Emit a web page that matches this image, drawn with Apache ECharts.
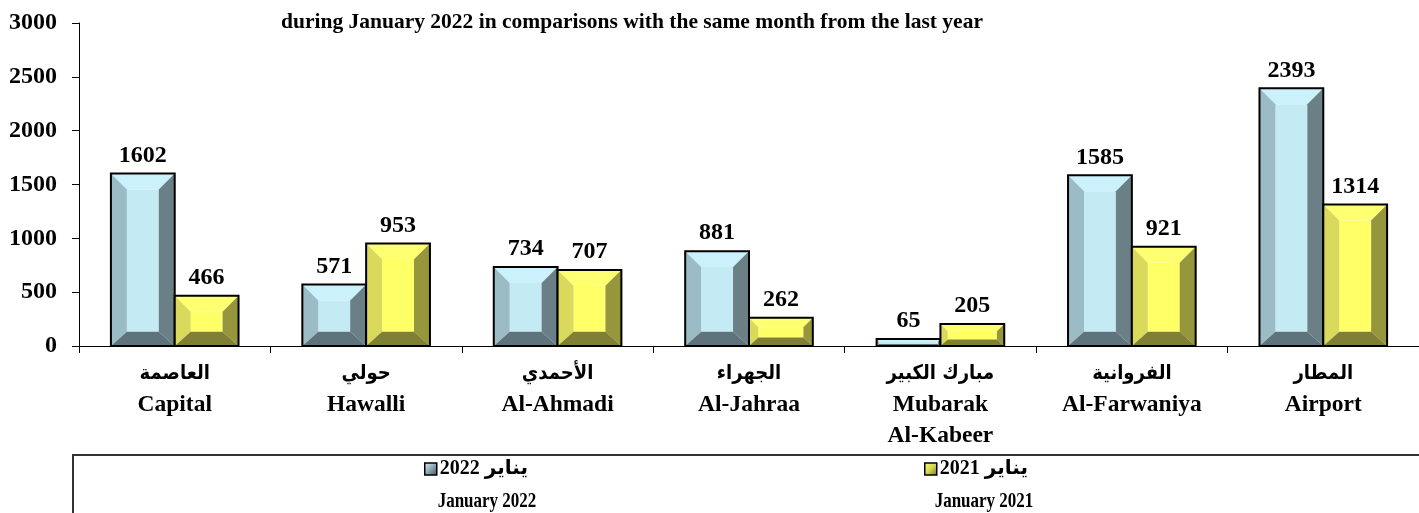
<!DOCTYPE html>
<html>
<head>
<meta charset="utf-8">
<script src="https://cdn.jsdelivr.net/npm/echarts@6/dist/echarts.min.js"></script>
<style>
html,body{margin:0;padding:0;background:#fff;}
#chart{width:1419px;height:513px;}
</style>
</head>
<body>
<div id="chart"></div>
<script>
const arabicNames = ['العاصمة', 'حولي', 'الأحمدي', 'الجهراء', 'مبارك الكبير', 'الفروانية', 'المطار'];
const englishNames = ['Capital', 'Hawalli', 'Al-Ahmadi', 'Al-Jahraa', 'Mubarak\nAl-Kabeer', 'Al-Farwaniya', 'Airport'];
const values2022 = [1602, 571, 734, 881, 65, 1585, 2393];
const values2021 = [466, 953, 707, 262, 205, 921, 1314];
const seriesNames = ['يناير 2022', 'يناير 2021'];
const seriesEnglish = ['January 2022', 'January 2021'];
const yTicks = { min: 0, max: 3000, interval: 500 };
const titleText = 'during January 2022 in comparisons with the same month from the last year';

const categories = arabicNames.map((a, i) => a + '\n' + englishNames[i]);
const FONT = "'Liberation Serif', 'Times New Roman', 'DejaVu Sans', serif";
const AR_FONT = "'DejaVu Sans Condensed', 'DejaVu Sans', sans-serif";

const palettes = [
  { face: '#C4EAF4', top: '#CBF2FC', left: '#9BBBC5', right: '#6A7F86', bottom: '#5E737B' },
  { face: '#FFFF66', top: '#FFFF72', left: '#D9D95B', right: '#96963D', bottom: '#7F7F35' }
];

function makeRender(sIdx) {
  return function (params, api) {
    const idx = api.value(0);
    const val = api.value(1);
    const base = api.coord([idx, 0]);
    const topPt = api.coord([idx, val]);
    const catW = api.size([1, 0])[0];
    const bw = catW / 3;
    const x0 = base[0] + (sIdx === 0 ? -bw : 0);
    const x1 = x0 + bw;
    const y0 = topPt[1];
    const y1 = base[1];
    const h = y1 - y0;
    const b = Math.min(17, bw / 4, h / 3);
    const p = palettes[sIdx];
    const ix0 = x0 + b, ix1 = x1 - b, iy0 = y0 + b, iy1 = y1 - b * 0.9;
    return {
      type: 'group',
      children: [
        { type: 'rect', shape: { x: ix0, y: iy0, width: ix1 - ix0, height: iy1 - iy0 }, style: { fill: p.face } },
        { type: 'polygon', shape: { points: [[x0, y0], [x1, y0], [ix1, iy0], [ix0, iy0]] }, style: { fill: p.top } },
        { type: 'polygon', shape: { points: [[x0, y0], [ix0, iy0], [ix0, iy1], [x0, y1]] }, style: { fill: p.left } },
        { type: 'polygon', shape: { points: [[x1, y0], [x1, y1], [ix1, iy1], [ix1, iy0]] }, style: { fill: p.right } },
        { type: 'polygon', shape: { points: [[x0, y1], [ix0, iy1], [ix1, iy1], [x1, y1]] }, style: { fill: p.bottom } },
        { type: 'rect', shape: { x: x0, y: y0, width: bw, height: h }, style: { fill: 'none', stroke: '#000', lineWidth: 2 } },
        { type: 'text', style: { text: String(val), x: (x0 + x1) / 2, y: y0 - 6, align: 'center', verticalAlign: 'bottom',
          fontSize: 24, fontWeight: 'bold', fontFamily: FONT, fill: '#000' } }
      ]
    };
  };
}

const swatchColors = [
  new echarts.graphic.LinearGradient(0, 0, 1, 1, [{ offset: 0, color: '#E8F6FA' }, { offset: 0.5, color: '#8FA9B2' }, { offset: 1, color: '#3E4E55' }]),
  new echarts.graphic.LinearGradient(0, 0, 1, 1, [{ offset: 0, color: '#FFFF80' }, { offset: 0.5, color: '#D6D650' }, { offset: 1, color: '#6E6E25' }])
];

const legendBase = {
  top: 459, padding: 0, align: 'left', icon: 'rect', itemWidth: 12, itemHeight: 12, itemGap: 4,
  selectedMode: false,
  textStyle: { fontSize: 20, fontWeight: 'bold', fontFamily: FONT, color: '#000', padding: [0, 0, 0, -2] }
};

const chart = echarts.init(document.getElementById('chart'), null, { renderer: 'canvas' });
chart.setOption({
  animation: false,
  backgroundColor: '#fff',
  title: {
    text: titleText, left: 281, top: 11, padding: 0,
    textStyle: { fontSize: 21.5, fontWeight: 'bold', fontFamily: FONT, color: '#000' }
  },
  grid: { left: 79, top: 23, width: 1346, bottom: 167, containLabel: false },
  xAxis: {
    type: 'category', data: categories,
    axisLine: { show: true, lineStyle: { color: '#000', width: 1 } },
    axisTick: { show: true, length: 7, interval: 0, lineStyle: { color: '#000' } },
    axisLabel: {
      interval: 0, margin: 12, color: '#000',
      formatter: (value, index) => '{ar|' + arabicNames[index] + '}\n' +
        englishNames[index].split('\n').map(s => '{en|' + s + '}').join('\n'),
      rich: {
        ar: { fontSize: 20, fontWeight: 'bold', fontFamily: AR_FONT, lineHeight: 31, color: '#000' },
        en: { fontSize: 23.5, fontWeight: 'bold', fontFamily: FONT, lineHeight: 31, color: '#000' }
      }
    }
  },
  yAxis: {
    type: 'value', min: yTicks.min, max: yTicks.max, interval: yTicks.interval,
    splitLine: { show: false },
    axisLine: { show: true, lineStyle: { color: '#000', width: 1 } },
    axisTick: { show: true, length: 7, lineStyle: { color: '#000' } },
    axisLabel: { margin: 22, fontSize: 24, fontWeight: 'bold', fontFamily: FONT, color: '#000', formatter: v => String(v) }
  },
  legend: [
    Object.assign({}, legendBase, {
      left: 424,
      data: [{ name: seriesNames[0], itemStyle: { color: swatchColors[0], borderColor: '#000', borderWidth: 1.5 } }]
    }),
    Object.assign({}, legendBase, {
      left: 924,
      data: [{ name: seriesNames[1], itemStyle: { color: swatchColors[1], borderColor: '#000', borderWidth: 1.5 } }]
    })
  ],
  graphic: [
    { type: 'rect', shape: { x: 73, y: 455, width: 1400, height: 120 }, style: { fill: 'none', stroke: '#333', lineWidth: 2 }, silent: true },
    { type: 'text', x: 487, y: 502, scaleX: 0.85, style: { text: seriesEnglish[0], align: 'center', verticalAlign: 'middle', fontSize: 20, fontWeight: 'bold', fontFamily: FONT, fill: '#000' } },
    { type: 'text', x: 984, y: 502, scaleX: 0.85, style: { text: seriesEnglish[1], align: 'center', verticalAlign: 'middle', fontSize: 20, fontWeight: 'bold', fontFamily: FONT, fill: '#000' } }
  ],
  series: [
    { name: seriesNames[0], type: 'custom', renderItem: makeRender(0), encode: { x: 0, y: 1 },
      itemStyle: { color: '#8FA9B2' }, data: values2022.map((v, i) => [i, v]) },
    { name: seriesNames[1], type: 'custom', renderItem: makeRender(1), encode: { x: 0, y: 1 },
      itemStyle: { color: '#D6D650' }, data: values2021.map((v, i) => [i, v]) }
  ]
});
</script>
</body>
</html>
